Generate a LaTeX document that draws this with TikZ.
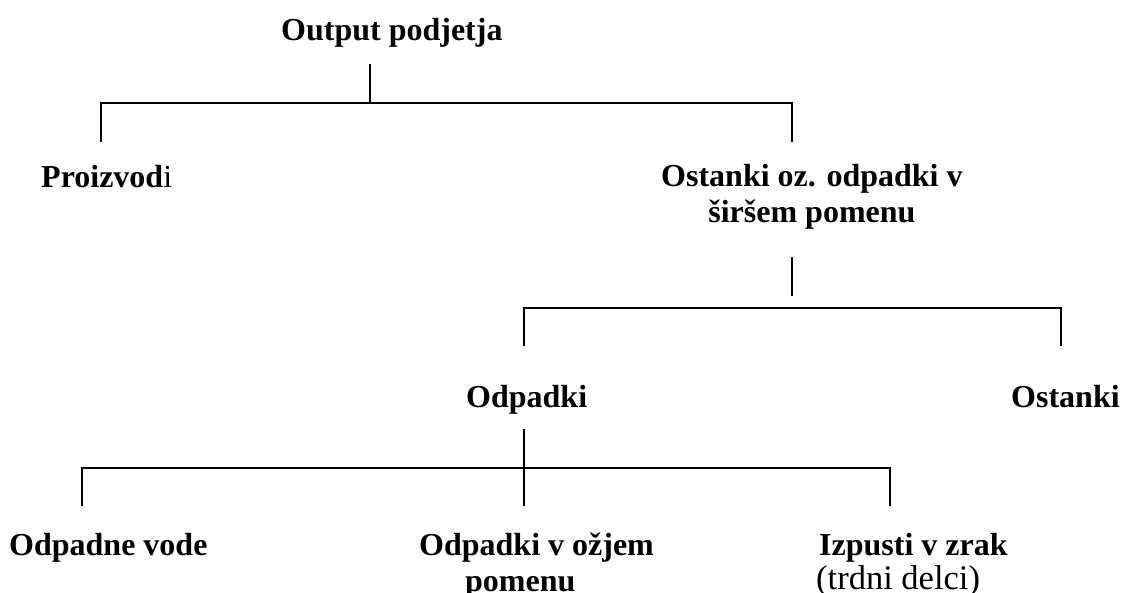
\documentclass[tikz,border=0pt]{standalone}
\usepackage{fontspec}
\setmainfont{Liberation Serif}
\begin{document}
\begin{tikzpicture}[x=1pt,y=1pt,
  lbl/.style={inner sep=0pt, anchor=base west, font=\fontsize{32}{36}\selectfont\bfseries},
  conn/.style={line width=1.4pt, line join=miter}]
\useasboundingbox (0,0) rectangle (1121,-593);
% labels
\node[lbl] (out) at (281,-41) {Output podjetja};
\node[lbl] (proi) at (41,-188) {Proizvod\textmd{i}};
\node[lbl] (ostodp) at (661,-187) {\begin{tabular}[t]{@{}c@{}}Ostanki oz. odpadki v\\ širšem pomenu\end{tabular}};
\node[lbl] (odp) at (466,-407) {Odpadki};
\node[lbl] (ost) at (1011,-407) {Ostanki};
\node[lbl] (vode) at (9,-555) {Odpadne vode};
\node[lbl] (ozj) at (419,-555) {\begin{tabular}[t]{@{}l@{}}Odpadki v ožjem\\ \hspace{46pt}pomenu\end{tabular}};
\node[lbl] (izp) at (819,-555) {\begin{tabular}[t]{@{}l@{}}Izpusti v zrak\\[-2pt] \hspace{-3pt}\mdseries\fontsize{34.5}{36}\selectfont (trdni delci)\end{tabular}};
% connector points
\coordinate (r0) at (370,-64);
\coordinate (r1) at (370,-103);
\coordinate (a0) at (101,-103);
\coordinate (a1) at (101,-142);
\coordinate (b0) at (792,-103);
\coordinate (b1) at (792,-142);
\coordinate (s0) at (792,-257);
\coordinate (s1) at (792,-296);
\coordinate (c0) at (524,-308);
\coordinate (c1) at (524,-346);
\coordinate (d0) at (1061,-308);
\coordinate (d1) at (1061,-346);
\coordinate (t0) at (524,-429);
\coordinate (t1) at (524,-506);
\coordinate (e0) at (82,-468);
\coordinate (e1) at (82,-506);
\coordinate (f0) at (890,-468);
\coordinate (f1) at (890,-506);
% connectors
\draw[conn] (r0) -- (r1);
\draw[conn] (a1) -- (a0) -- (b0) -- (b1);
\draw[conn] (s0) -- (s1);
\draw[conn] (c1) -- (c0) -- (d0) -- (d1);
\draw[conn] (t0) -- (t1);
\draw[conn] (e1) -- (e0) -- (f0) -- (f1);
\end{tikzpicture}
\end{document}
